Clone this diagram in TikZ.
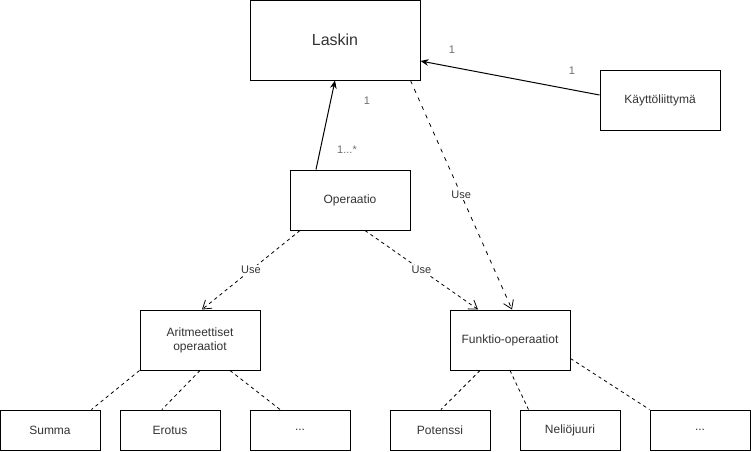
\documentclass[tikz,border=0pt]{standalone}
\usepackage{fontspec}
\setmainfont{Liberation Sans}
\usetikzlibrary{arrows.meta,calc}
\definecolor{txtgray}{RGB}{51,51,51}
\definecolor{lblgray}{RGB}{110,110,110}

\tikzset{
  classbox/.style={draw=black, line width=0.75pt, fill=white, text=txtgray,
    font=\fontsize{9}{10.5}\selectfont, align=center},
  bigbox/.style={classbox, minimum width=170*0.75pt, minimum height=80*0.75pt},
  midbox/.style={classbox, minimum width=120*0.75pt, minimum height=60*0.75pt},
  leafbox/.style={classbox, minimum width=100*0.75pt, minimum height=40*0.75pt},
  assoc/.style={line width=0.75pt, -{Stealth[length=6pt,width=5pt]}},
  uses/.style={line width=0.6pt, dash pattern=on 2.5pt off 2.5pt,
    -{Straight Barb[length=6pt,width=8pt,line width=0.6pt]}},
  usesdash/.style={uses, dash pattern=on 3pt off 4pt},
  branch/.style={line width=0.6pt, dash pattern=on 2.5pt off 2.5pt},
  mult/.style={text=lblgray, font=\fontsize{8.25}{9}\selectfont, inner sep=1pt},
  uselbl/.style={text=txtgray, fill=white, font=\fontsize{8.25}{9}\selectfont, inner sep=1pt}
}

\begin{document}
\begin{tikzpicture}[x=0.75pt, y=-0.75pt]

% Canvas
\useasboundingbox (0,0) rectangle (751,451);

% Classes
\node[bigbox, font=\fontsize{12}{14}\selectfont] (laskin) at (335,40) {Laskin};
\node[midbox] (kayttis) at (660,100) {Käyttöliittymä};
\node[midbox] (operaatio) at (350,200) {Operaatio};
\node[midbox] (aritm) at (200,340) {Aritmeettiset\\operaatiot};
\node[midbox] (funktio) at (510,340) {Funktio-operaatiot};

% Leaf classes
\node[leafbox] (summa) at (50,430) {Summa};
\node[leafbox] (erotus) at (170,430) {Erotus};
\node[leafbox] (aritmmuut) at (300,430) {...};
\node[leafbox] (potenssi) at (440,430) {Potenssi};
\node[leafbox] (neliojuuri) at (570,430) {Neliöjuuri};
\node[leafbox] (funktiomuut) at (700,430) {...};

% Associations
\draw[assoc] ($(operaatio.north)+(-34,0)$) -- (laskin.south);
\draw[assoc] ($(kayttis.west)+(0,-5)$) -- ($(laskin.east)+(0,21)$);

% Dependencies
\draw[usesdash] ($(laskin.south east)+(-10,0)$) -- ($(funktio.north)+(2,0)$)
  node[uselbl, midway] (uselaskin) {Use};
\draw[uses] ($(operaatio.south)+(-50,0)$) -- ($(aritm.north)+(2,0)$)
  node[uselbl, midway] (usearitm) {Use};
\draw[uses] ($(operaatio.south)+(15,0)$) -- ($(funktio.north)+(-32,0)$)
  node[uselbl, midway] (usefunktio) {Use};

% Multiplicities
\node[mult] (m1) at (367,101) {1};
\node[mult] (m2) at (347,150) {1...*};
\node[mult] (m3) at (452,50) {1};
\node[mult] (m4) at (572,71) {1};

% Branches
\draw[branch] (aritm.south west) -- ($(summa.north east)+(-9,0)$);
\draw[branch] (aritm.south) -- ($(erotus.north)+(-8,0)$);
\draw[branch] ($(aritm.south)+(30,0)$) -- ($(aritmmuut.north)+(-20,0)$);
\draw[branch] ($(funktio.south)+(-30,0)$) -- ($(potenssi.north)+(1,0)$);
\draw[branch] (funktio.south) -- ($(neliojuuri.north west)+(9,0)$);
\draw[branch] ($(funktio.south east)+(0,-12)$) -- (funktiomuut.north west);

\end{tikzpicture}
\end{document}
